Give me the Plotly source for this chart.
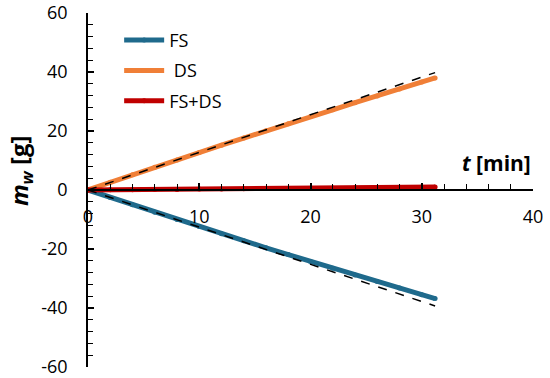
import plotly.graph_objects as go

# time (min) and mass of water (g)
t = [0, 2, 4, 6, 8, 10, 12, 14, 16, 18, 20, 22, 24, 26, 28, 30, 31.2]
fs = [0, -2.5, -5.0, -7.5, -10.0, -12.4, -14.8, -17.2, -19.6, -21.9, -24.2, -26.5, -28.8, -31.0, -33.2, -35.5, -36.8]
ds = [0, 2.6, 5.2, 7.7, 10.2, 12.7, 15.2, 17.6, 20.1, 22.5, 24.9, 27.2, 29.6, 31.9, 34.2, 36.6, 38.0]
fsds = [0, 0.05, 0.1, 0.15, 0.2, 0.3, 0.35, 0.4, 0.5, 0.55, 0.6, 0.7, 0.75, 0.8, 0.9, 1.0, 1.05]

# linear fits (dashed)
fit_t = [0, 31.2]
fs_fit = [0, -39.3]
ds_fit = [0, 39.8]

x_ticks = [0, 10, 20, 30, 40]
y_ticks = [-60, -40, -20, 0, 20, 40, 60]

FONT = "Open Sans"
c_fs, c_ds, c_fsds = "#1f6a8c", "#f07f37", "#c00000"

fig = go.Figure()
for name, y, c in [("FS", fs, c_fs), (" DS", ds, c_ds), ("FS+DS", fsds, c_fsds)]:
    fig.add_trace(go.Scatter(x=t, y=y, name=name, legendgroup=name, mode="lines+markers",
                             line=dict(color=c, width=5),
                             marker=dict(color=c, size=5)))
for y in [ds_fit, fs_fit]:
    fig.add_trace(go.Scatter(x=fit_t, y=y, mode="lines", showlegend=False,
                             line=dict(color="black", width=1.5, dash="dash")))

fig.update_layout(
    width=550, height=378,
    margin=dict(l=88, r=17, t=13, b=11),
    plot_bgcolor="white", paper_bgcolor="white",
    font=dict(family=FONT, size=17, color="black"),
    showlegend=True,
    legend=dict(x=0.07, y=0.975, xanchor="left", yanchor="top",
                font=dict(size=18), bgcolor="rgba(0,0,0,0)", tracegroupgap=4,
                itemwidth=40),
    xaxis=dict(range=[0, 40], tickvals=x_ticks, ticktext=[str(v) for v in x_ticks],
               anchor="free", position=0.5, showgrid=False, zeroline=False,
               automargin=False, ticklabeloverflow="allow",
               showline=True, linecolor="black", linewidth=1.5,
               ticks="inside", ticklen=6, tickwidth=1.5, tickcolor="black",
               ticklabelstandoff=11,
               minor=dict(dtick=2, tick0=0, ticks="inside", ticklen=5, tickwidth=1.2,
                          tickcolor="black", showgrid=False),
               tickfont=dict(size=18)),
    yaxis=dict(range=[-60, 60], tickvals=y_ticks, ticktext=[str(v) for v in y_ticks],
               showgrid=False, zeroline=False, automargin=False,
               ticklabeloverflow="allow",
               showline=True, linecolor="black", linewidth=1.5,
               ticks="inside", ticklen=6, tickwidth=1.5, tickcolor="black",
               ticklabelstandoff=15,
               minor=dict(dtick=4, tick0=0, ticks="inside", ticklen=5, tickwidth=1.2,
                          tickcolor="black", showgrid=False),
               tickfont=dict(size=18)),
    annotations=[
        dict(text="<b><i>t</i> [min]</b>", x=36.7, y=9.2, xref="x", yref="y",
             showarrow=False, font=dict(size=21)),
        dict(text="<b><i>m<sub>w</sub></i> [g]</b>", x=(20 - 88) / 445, y=6.4,
             xref="paper", yref="y", xanchor="center", yanchor="middle",
             showarrow=False, textangle=-90, font=dict(size=24)),
    ],
)

# remove the browser's default 8px body margin so the figure fills the window
fig.write_html("out.html", config={"displayModeBar": False},
               post_script="document.body.style.margin='0';")
